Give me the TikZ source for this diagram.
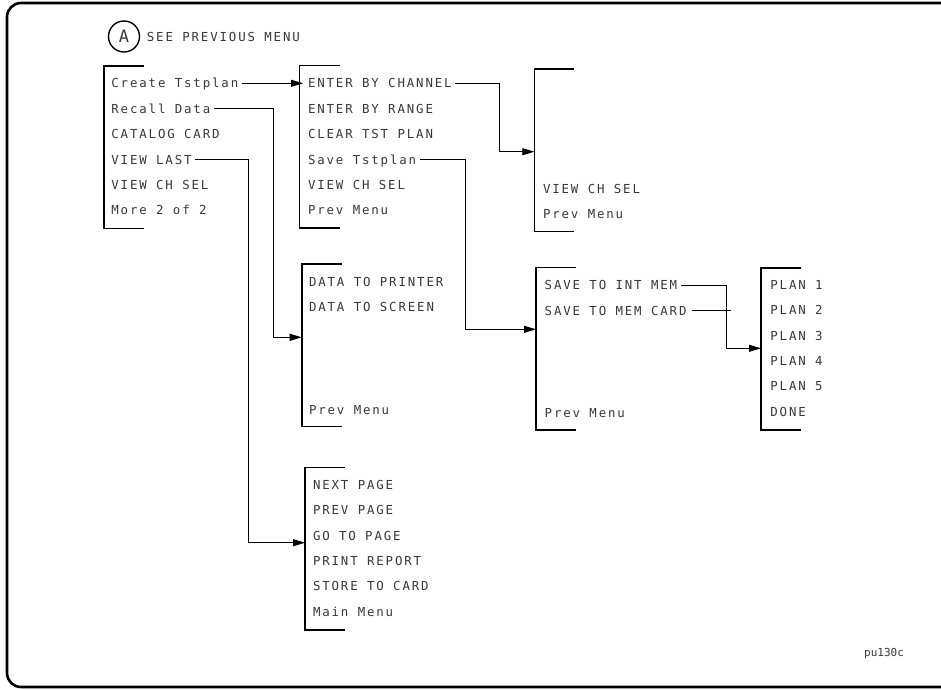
\documentclass[tikz,border=0pt]{standalone}
\usepackage{fontspec}
\newfontfamily\plotfont[LetterSpace=15]{DejaVu Sans Mono}
\newfontfamily\plotplain{DejaVu Sans Mono}
\usetikzlibrary{arrows.meta}
\tikzset{
  item/.style={anchor=west, inner sep=0pt, text height=9pt, text depth=0pt,
    text=black!78, font={\plotfont\fontsize{12.4pt}{14pt}\selectfont}},
  bracket/.style={line width=1.6pt, line cap=butt, line join=miter},
  conn/.style={line width=0.8pt},
  arr/.style={-{Triangle[length=12pt,width=7pt]}},
  frame/.style={line width=2.6pt, rounded corners=14pt}
}
\newcommand{\menubracket}[1]{\draw[bracket] ([xshift=40pt]#1) -- (#1) -- ++(0,162.5) -- ++(40,0);}
\begin{document}
\begin{tikzpicture}[x=1pt,y=-1pt]
\useasboundingbox (0,0) rectangle (941,689);
\draw[frame] (941,3) -- (7,3) -- (7,687) -- (941,687);

% header
\node[circle, draw, line width=1.4pt, minimum size=31pt, inner sep=0pt,
  font={\plotplain\fontsize{17pt}{19pt}\selectfont}, text=black!78] (circA) at (124,36.5) {A};
\node[item] (hdr) at (146.7,36.5) {SEE PREVIOUS MENU};

% bracket corners
\coordinate (m1) at (103.8,66);
\coordinate (m2) at (299.5,65.5);
\coordinate (m3) at (534.3,69);
\coordinate (m4) at (301.7,264);
\coordinate (m5) at (536,267.3);
\coordinate (m6) at (305,467.3);
\coordinate (m7) at (761,267.7);
\menubracket{m1}
\menubracket{m2}
\menubracket{m3}
\menubracket{m4}
\menubracket{m5}
\menubracket{m6}
\menubracket{m7}

% menu 1
\node[item] (a1) at (111.2,83.3) {Create Tstplan};
\node[item] (a2) at (111.2,108.7) {Recall Data};
\node[item] (a3) at (111.2,134.1) {CATALOG CARD};
\node[item] (a4) at (111.2,159.5) {VIEW LAST};
\node[item] (a5) at (111.2,184.9) {VIEW CH SEL};
\node[item] (a6) at (111.2,210.3) {More 2 of 2};

% menu 2
\node[item] (b1) at (307.8,83.3) {ENTER BY CHANNEL};
\node[item] (b2) at (307.8,108.7) {ENTER BY RANGE};
\node[item] (b3) at (307.8,134.1) {CLEAR TST PLAN};
\node[item] (b4) at (307.8,159.5) {Save Tstplan};
\node[item] (b5) at (307.8,184.9) {VIEW CH SEL};
\node[item] (b6) at (307.8,210.3) {Prev Menu};

% menu 3
\node[item] (c1) at (542.8,189.3) {VIEW CH SEL};
\node[item] (c2) at (542.8,214.3) {Prev Menu};

% menu 4
\node[item] (d1) at (308.8,281.7) {DATA TO PRINTER};
\node[item] (d2) at (308.8,306.5) {DATA TO SCREEN};
\node[item] (d3) at (308.8,409.5) {Prev Menu};

% menu 5
\node[item] (e1) at (544.5,285) {SAVE TO INT MEM};
\node[item] (e2) at (544.5,310.5) {SAVE TO MEM CARD};
\node[item] (e3) at (544.5,413) {Prev Menu};

% menu 6
\node[item] (f1) at (312.8,485) {NEXT PAGE};
\node[item] (f2) at (312.8,510.3) {PREV PAGE};
\node[item] (f3) at (312.8,535.6) {GO TO PAGE};
\node[item] (f4) at (312.8,560.9) {PRINT REPORT};
\node[item] (f5) at (312.8,586.2) {STORE TO CARD};
\node[item] (f6) at (312.8,611.5) {Main Menu};

% menu 7
\node[item] (g1) at (770.2,285) {PLAN 1};
\node[item] (g2) at (770.2,310.3) {PLAN 2};
\node[item] (g3) at (770.2,335.6) {PLAN 3};
\node[item] (g4) at (770.2,360.9) {PLAN 4};
\node[item] (g5) at (770.2,386.2) {PLAN 5};
\node[item] (g6) at (770.2,411.5) {DONE};

% label
\node[anchor=west, inner sep=0pt, text height=8pt, text depth=0pt, text=black!78,
  font={\plotplain\fontsize{11pt}{13pt}\selectfont}] (lbl) at (864,652.3) {pu130c};

% junctions
\coordinate (j1) at (499,151.7);
\coordinate (j2) at (273.3,337.3);
\coordinate (j3) at (248.3,542.7);
\coordinate (j4) at (465,329.3);
\coordinate (j5) at (726,348.3);

% connectors
\draw[conn,arr] ([xshift=3.5pt]a1.east) -- ([xshift=3.5pt]a1.east -| m2);
\draw[conn,arr] ([xshift=3.5pt]b1.east) -| (j1) -- (j1 -| m3);
\draw[conn,arr] ([xshift=3.5pt]a2.east) -| (j2) -- (j2 -| m4);
\draw[conn,arr] ([xshift=3.5pt]a4.east) -| (j3) -- (j3 -| m6);
\draw[conn,arr] ([xshift=3.5pt]b4.east) -| (j4) -- (j4 -| m5);
\draw[conn,arr] ([xshift=3.5pt]e1.east) -| (j5) -- (j5 -| m7);
\draw[conn] ([xshift=5pt]e2.east) -- ([xshift=5pt]e2.east -| j5);
\end{tikzpicture}
\end{document}
